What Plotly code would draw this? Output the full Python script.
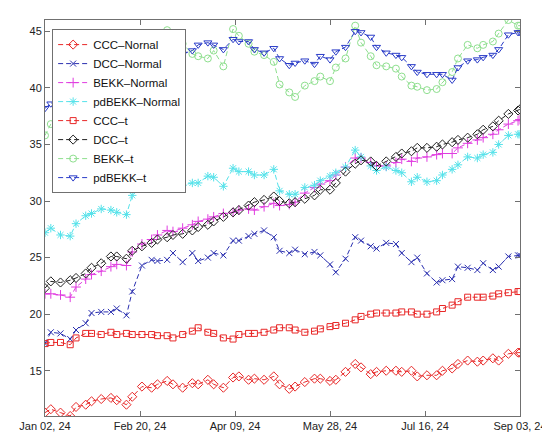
import pandas as pd
import plotly.graph_objects as go

# x positions: every third business day from Jan 02, 2024 to Sep 03, 2024
all_days = pd.bdate_range("2024-01-02", "2024-09-03")
dates = list(all_days[::3]) + [all_days[-1]]

ccc_normal = [11.3, 11.6, 11.3, 11.0, 11.8, 12.0, 12.3, 12.5, 12.6, 12.4,
              12.0, 12.7, 13.6, 13.5, 13.8, 14.1, 13.8, 13.5, 13.9, 13.8,
              14.2, 13.8, 13.5, 14.4, 14.5, 14.2, 14.3, 14.2, 14.5, 13.8,
              13.4, 13.6, 14.0, 14.3, 14.3, 14.1, 14.2, 14.9, 15.6, 15.3,
              14.7, 14.9, 15.0, 15.0, 14.9, 15.0, 14.5, 14.6, 14.6, 15.0,
              15.2, 15.6, 15.9, 15.8, 15.9, 16.1, 15.9, 16.5, 16.6, 16.6]

dcc_normal = [17.4, 18.4, 18.3, 17.8, 18.6, 19.2, 20.1, 20.2, 20.2, 20.5,
              19.9, 22.0, 24.3, 24.8, 24.7, 24.8, 25.4, 24.6, 25.4, 24.7,
              25.0, 25.4, 25.2, 26.5, 26.5, 26.9, 27.1, 27.4, 26.8, 25.6,
              25.4, 25.7, 25.3, 25.5, 25.2, 24.4, 23.7, 24.9, 26.8, 26.5,
              26.0, 25.8, 26.3, 26.2, 25.4, 24.6, 25.0, 23.6, 22.8, 23.0,
              23.1, 24.2, 24.1, 23.9, 24.5, 23.9, 24.2, 25.1, 25.2, 25.2]

bekk_normal = [21.8, 21.8, 21.7, 21.5, 22.4, 23.1, 23.5, 23.8, 24.2, 24.4,
               24.3, 25.5, 26.2, 26.6, 27.0, 27.4, 27.3, 27.6, 27.9, 28.2,
               28.4, 28.6, 28.9, 29.0, 29.2, 29.3, 29.2, 29.5, 29.8, 29.6,
               29.7, 29.9, 30.7, 31.2, 31.5, 31.8, 32.3, 33.0, 33.8, 33.8,
               33.4, 33.1, 33.1, 33.4, 33.7, 33.5, 33.8, 33.9, 34.1, 34.2,
               34.2, 34.7, 35.1, 35.4, 35.6, 35.9, 36.3, 36.8, 37.1, 37.2]

pdbekk_normal = [27.2, 27.6, 27.0, 26.9, 28.0, 28.7, 28.9, 29.3, 29.2, 29.0,
                 28.8, 30.5, 31.3, 31.7, 31.9, 32.4, 32.1, 31.4, 31.6, 31.6,
                 32.2, 32.1, 31.3, 32.9, 32.6, 32.6, 32.3, 32.3, 32.8, 30.9,
                 30.6, 30.6, 31.2, 31.4, 31.8, 32.2, 32.5, 33.0, 34.5, 33.9,
                 33.1, 32.7, 33.0, 32.7, 32.5, 31.7, 32.1, 31.7, 31.8, 32.3,
                 32.8, 33.2, 33.9, 33.8, 34.1, 34.3, 35.0, 35.8, 35.9, 35.9]

ccc_t = [17.4, 17.5, 17.5, 17.3, 17.9, 18.3, 18.3, 18.2, 18.4, 18.2,
         18.3, 18.2, 18.2, 18.2, 18.1, 18.1, 17.9, 18.2, 18.5, 18.8,
         18.4, 18.3, 17.9, 17.8, 18.2, 18.3, 18.3, 18.4, 18.6, 18.8,
         18.8, 18.6, 18.4, 18.5, 18.7, 18.9, 19.0, 19.2, 19.5, 19.8,
         20.0, 20.1, 20.1, 20.1, 20.2, 20.2, 20.0, 20.0, 20.2, 20.5,
         20.8, 21.1, 21.5, 21.5, 21.5, 21.6, 21.8, 21.9, 22.0, 22.0]

dcc_t = [22.3, 22.9, 22.8, 23.0, 23.2, 23.6, 24.1, 24.5, 25.1, 25.1,
         24.9, 25.6, 26.0, 26.3, 26.6, 26.8, 27.0, 27.1, 27.4, 27.7,
         27.9, 28.2, 28.6, 29.0, 29.2, 29.6, 29.9, 30.1, 30.4, 30.0,
         29.8, 29.9, 30.2, 30.5, 31.0, 31.0, 31.6, 32.6, 33.3, 33.6,
         33.5, 33.1, 33.5, 33.9, 34.2, 34.4, 34.7, 34.7, 34.8, 35.0,
         35.2, 35.4, 35.6, 35.9, 36.3, 36.6, 37.1, 37.7, 38.0, 38.1]

bekk_t = [35.8, 36.8, 37.5, 38.4, 39.5, 40.3, 41.0, 41.6, 42.1, 42.6,
          43.0, 43.6, 44.2, 44.6, 44.8, 45.1, 44.5, 43.9, 43.0, 42.8,
          42.6, 43.3, 41.9, 45.2, 44.6, 43.9, 43.2, 42.9, 42.3, 40.3,
          39.6, 39.2, 40.2, 40.6, 41.0, 40.6, 41.8, 42.6, 45.5, 44.0,
          42.8, 42.0, 41.9, 41.7, 41.0, 40.2, 40.1, 39.8, 39.9, 40.5,
          41.4, 42.6, 43.8, 43.5, 43.8, 44.1, 44.8, 46.0, 45.5, 45.5]

pdbekk_t = [38.2, 38.6, 39.4, 39.9, 40.5, 40.8, 41.4, 41.7, 42.0, 42.4,
            42.5, 42.9, 43.1, 43.4, 43.2, 43.6, 43.4, 43.0, 43.3, 43.8,
            44.0, 43.8, 43.4, 44.3, 44.1, 44.1, 43.4, 43.1, 43.5, 42.6,
            42.0, 42.2, 42.4, 42.1, 42.8, 42.5, 43.2, 43.6, 45.0, 44.9,
            44.5, 43.6, 43.1, 42.9, 42.7, 41.9, 41.4, 41.2, 41.2, 41.2,
            40.7, 41.8, 42.4, 42.5, 42.7, 42.9, 43.4, 44.7, 44.9, 44.9]

series_names = ["CCC–Nornal", "DCC–Normal", "BEKK–Normal", "pdBEKK–Normal",
                "CCC–t", "DCC–t", "BEKK–t", "pdBEKK–t"]

tick_dates = ["2024-01-02", "2024-02-20", "2024-04-09", "2024-05-28",
              "2024-07-16", "2024-09-03"]
tick_labels = ["Jan 02, 24", "Feb 20, 24", "Apr 09, 24", "May 28, 24",
               "Jul 16, 24", "Sep 03, 24"]
y_ticks = [15, 20, 25, 30, 35, 40, 45]

styles = [
    ("#e82828", "diamond-open", 7),
    ("#2a2fb0", "x-thin-open", 6),
    ("#e03ce0", "cross-thin-open", 7),
    ("#55e2ea", "asterisk-open", 7),
    ("#e82828", "square-open", 6),
    ("#222222", "diamond-open", 7),
    ("#8edf8e", "circle-open", 7),
    ("#2a3cc8", "triangle-down-open", 7),
]

data = [ccc_normal, dcc_normal, bekk_normal, pdbekk_normal,
        ccc_t, dcc_t, bekk_t, pdbekk_t]

fig = go.Figure()
for name, vals, (col, sym, sz) in zip(series_names, data, styles):
    fig.add_trace(go.Scatter(
        x=dates, y=vals, name=name, mode="lines+markers",
        line=dict(color=col, width=1, dash="5px,3px"),
        marker=dict(symbol=sym, size=sz, color=col,
                    line=dict(color=col, width=1)),
    ))

axis_common = dict(
    showline=True, linecolor="#707070", linewidth=1, mirror="ticks",
    ticks="inside", ticklen=5, tickcolor="#707070", showgrid=False,
    zeroline=False, tickfont=dict(family="Liberation Sans, Arial", size=11,
                                  color="#222222"),
)

fig.update_layout(
    width=550, height=435,
    margin=dict(l=36, r=28, t=11, b=16),
    paper_bgcolor="white", plot_bgcolor="white",
    showlegend=True,
    legend=dict(
        x=0.015, y=0.977, xanchor="left", yanchor="top",
        bgcolor="white", bordercolor="#707070", borderwidth=1,
        font=dict(family="Liberation Sans, Arial", size=11.5, color="#111111"),
        itemwidth=30, tracegroupgap=0,
    ),
    xaxis=dict(range=["2024-01-02", "2024-09-03"], tickvals=tick_dates,
               ticktext=tick_labels, **axis_common),
    yaxis=dict(range=[11, 46], tickvals=y_ticks, **axis_common),
)

fig.write_html("out.html")
